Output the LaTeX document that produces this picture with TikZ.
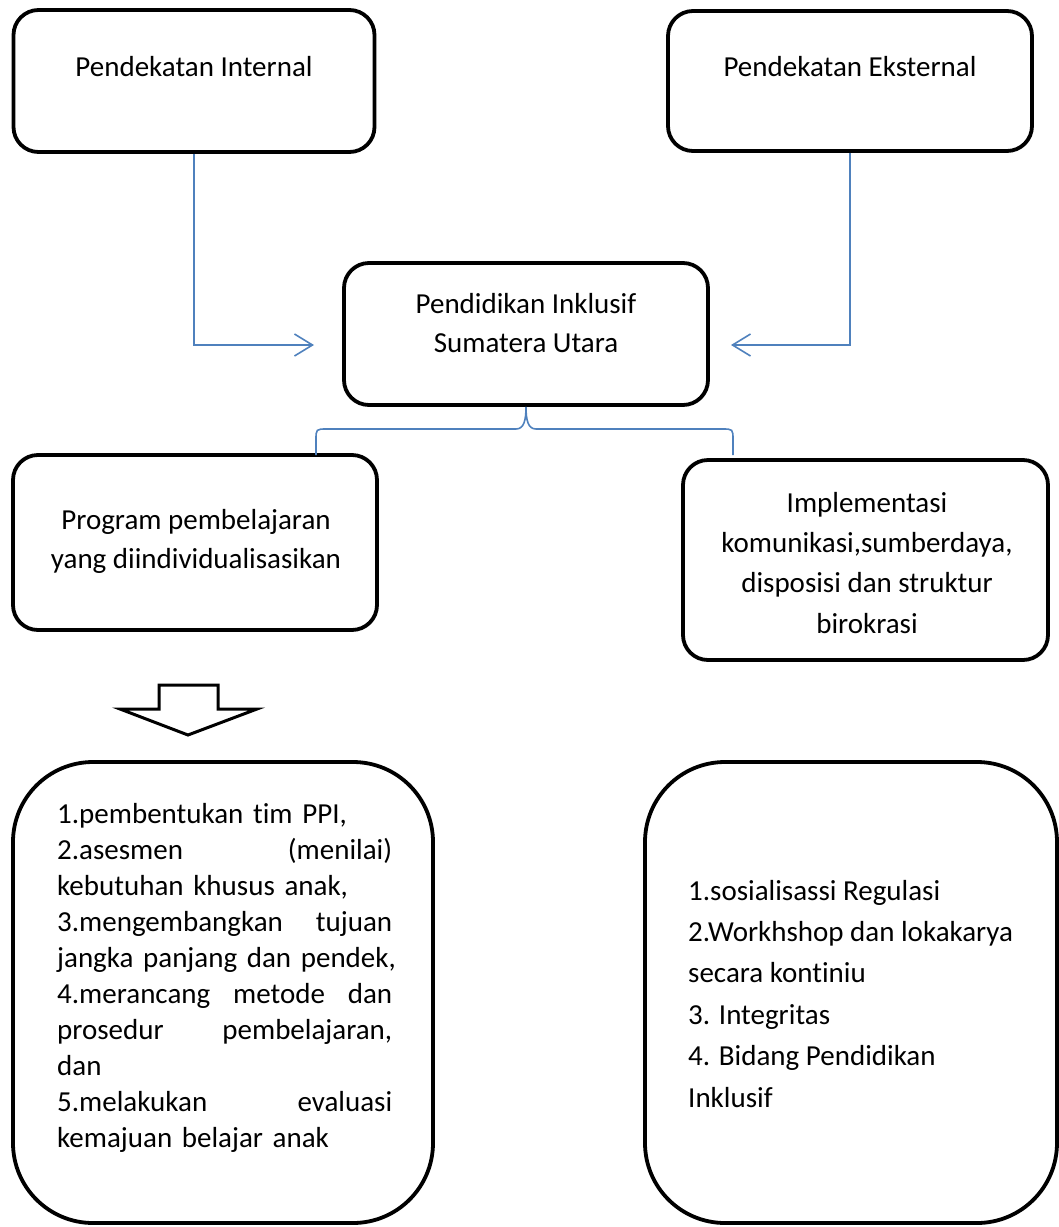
\documentclass[tikz,border=0pt]{standalone}
\usepackage{fontspec}
\setmainfont{Carlito}[Ligatures=NoCommon]
\usetikzlibrary{positioning, arrows.meta, calc}

\definecolor{linkblue}{RGB}{79,129,189}
\newcommand{\fullline}[1]{\leavevmode\hbox to 335pt{#1}}

\begin{document}
\begin{tikzpicture}[x=1pt, y=-1pt,
    box/.style={draw, line width=3.8pt, rounded corners=25pt, inner sep=0pt},
    bigbox/.style={box, rounded corners=80pt},
    boxtext/.style={font=\fontsize{29}{39}\selectfont, align=center, inner sep=0pt},
    listtext/.style={font=\fontsize{29}{36}\selectfont, align=left, inner sep=0pt},
    link/.style={draw=linkblue, line width=1.6pt},
    linkarrow/.style={link, -{Straight Barb[length=18pt, width=22pt]}}]
    \useasboundingbox (0,0) rectangle (1059,1227);

    % boxes
    \node[box, minimum width=361pt, minimum height=142pt] (internal) at (194,81) {};
    \node[box, minimum width=364pt, minimum height=140pt] (external) at (850,81) {};
    \node[box, minimum width=364pt, minimum height=142pt] (hub) at (526,334) {};
    \node[box, minimum width=364pt, minimum height=175pt] (prog) at (195,542.5) {};
    \node[box, minimum width=365pt, minimum height=200pt] (impl) at (865.5,560) {};
    \node[bigbox, minimum width=420pt, minimum height=461pt] (steps) at (223,992.5) {};
    \node[bigbox, minimum width=412pt, minimum height=461pt] (regs) at (851,992.5) {};

    % texts (multi-line ones sit on their last baseline)
    \node[boxtext, anchor=base] (internalText) at (194,76) {Pendekatan Internal};
    \node[boxtext, anchor=base] (externalText) at (850,76) {Pendekatan Eksternal};
    \node[boxtext, anchor=base] (hubText) at (526,352) {Pendidikan Inklusif\\Sumatera Utara};
    \node[boxtext, anchor=base] (progText) at (196,568) {Program pembelajaran\\yang diindividualisasikan};
    \node[boxtext, anchor=base, font=\fontsize{29}{40.3}\selectfont] (implText) at (867,633)
        {Implementasi\\komunikasi,sumberdaya,\\disposisi dan struktur\\birokrasi};
    \node[listtext, anchor=base west, text width=360pt] (stepsText) at (57,823) {%
        1.pembentukan tim PPI,\\
        \fullline{2.asesmen\hfill(menilai)}\\
        kebutuhan khusus anak,\\
        \fullline{3.mengembangkan\hfill tujuan}\\
        \mbox{jangka panjang dan pendek,}\\
        \fullline{4.merancang\hfill metode\hfill dan}\\
        \fullline{prosedur\hfill pembelajaran,}\\
        dan\\
        \fullline{5.melakukan\hfill evaluasi}\\
        kemajuan belajar anak};
    \node[listtext, anchor=base west, font=\fontsize{29}{41.4}\selectfont] (regsText) at (688,1107) {%
        1.sosialisassi Regulasi\\
        2.Workhshop dan lokakarya\\
        secara kontiniu\\
        3. Integritas\\
        4. Bidang Pendidikan\\
        Inklusif};

    % connectors
    \coordinate (intTip) at (314,345);
    \coordinate (extTip) at (731,345);
    \draw[linkarrow] (internal.south) |- (intTip);
    \draw[linkarrow] (external.south) |- (extTip);

    % brace under the hub
    \coordinate (braceL) at (316,455);
    \coordinate (braceR) at (733,455);
    \draw[link] (braceL) -- (316,440) .. controls (316,429) .. (327,429) -- (516,429)
        .. controls (524,429) and (526,420) .. (hub.south)
        .. controls (526,420) and (528,429) .. (536,429) -- (722,429)
        .. controls (733,429) .. (733,440) -- (braceR);

    % block arrow
    \draw[line width=3pt] (159,685) -- (218,685) -- (218,709) -- (257,709) -- (188,735)
        -- (120,709) -- (159,709) -- cycle;
\end{tikzpicture}
\end{document}
